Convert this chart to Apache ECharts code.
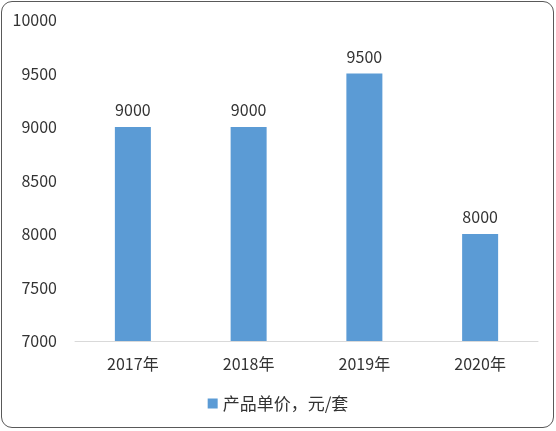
<!DOCTYPE html>
<html><head><meta charset="utf-8">
<script src="https://cdn.jsdelivr.net/npm/echarts@6/dist/echarts.min.js"></script>
<style>
html,body{margin:0;padding:0;background:#fff;}
#frame{position:absolute;left:1px;top:1px;width:551px;height:425px;border:1.5px solid #595959;border-radius:11px;box-sizing:content-box;}
#c{position:absolute;left:0;top:0;width:556px;height:431px;}
</style></head>
<body>
<div id="frame"></div>
<div id="c"></div>
<script>
const categories = ['2017年','2018年','2019年','2020年'];
const seriesName = '产品单价，元/套';
const values = [9000, 9000, 9500, 8000];
const yMin = 7000, yMax = 10000, yStep = 500;

const chart = echarts.init(document.getElementById('c'));
chart.setOption({
  animation:false,
  textStyle:{fontFamily:'"Noto Sans CJK SC", "DejaVu Sans", sans-serif'},
  grid:{left:75,right:18,top:20,bottom:90},
  legend:{
    data:[seriesName], bottom:14, left:'center',
    icon:'rect', itemWidth:10, itemHeight:10, itemGap:6,
    textStyle:{fontSize:17,color:'#333333'}
  },
  xAxis:{
    type:'category', data:categories,
    axisLine:{lineStyle:{color:'#D9D9D9',width:1}},
    axisTick:{show:false},
    axisLabel:{fontSize:16,color:'#333333',margin:15}
  },
  yAxis:{
    type:'value', min:yMin, max:yMax, interval:yStep,
    axisLine:{show:false}, axisTick:{show:false},
    splitLine:{show:false},
    axisLabel:{fontSize:16,color:'#333333',margin:18,formatter:v=>String(v)}
  },
  series:[{
    name:seriesName, type:'bar', data:values, barWidth:36,
    itemStyle:{color:'#5B9BD5'},
    label:{show:true,position:'top',fontSize:16,color:'#333333',distance:9}
  }]
});
</script>
</body></html>
